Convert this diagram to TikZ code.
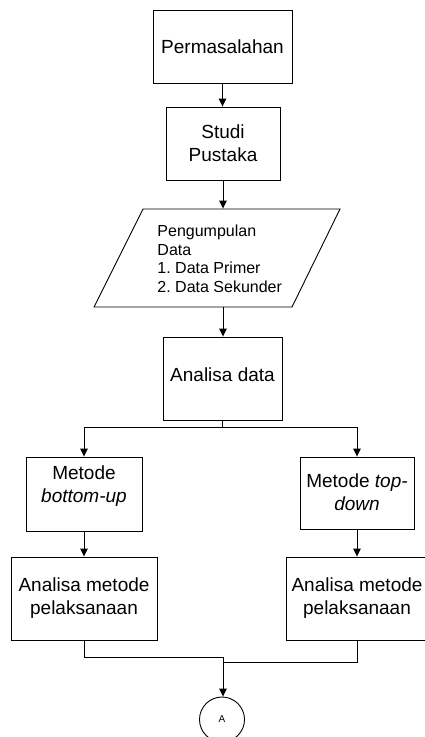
\documentclass[tikz,border=0pt]{standalone}
\usepackage{fontspec}
\setmainfont{Liberation Sans}
\usetikzlibrary{arrows.meta}
\frenchspacing
\begin{document}
\begin{tikzpicture}[x=1pt,y=-1pt,
  line width=0.9pt,
  box/.style={draw, rectangle, inner sep=0pt, align=center, font=\fontsize{19}{23}\selectfont},
  txt/.style={inner sep=0pt, align=center, font=\fontsize{19}{23}\selectfont},
  arr/.style={-{Triangle[length=8pt,width=7.5pt]}}]
\useasboundingbox (0,0) rectangle (425,737);
% nodes
\node[box, minimum width=139pt, minimum height=73pt] (perm) at (222.5,46.5) {Permasalahan};
\node[box, minimum width=114pt, minimum height=73pt] (studi) at (223,143.5) {Studi\\Pustaka};
% parallelogram
\node[minimum width=246pt, minimum height=98pt, inner sep=0pt] (para) at (217,258) {};
\draw (143,209) -- (340,209) -- (292,307) -- (94,307) -- cycle;
\node[anchor=base west, inner sep=0pt, align=left, font=\fontsize{16}{18.5}\selectfont] (paratext) at (157,292)
  {Pengumpulan\\Data\\1. Data Primer\\2. Data Sekunder};
\node[box, minimum width=119pt, minimum height=83pt] (anal) at (222.5,378.5) {};
\node[txt] (analtext) at (222.5,374.5) {Analisa data};
\node[box, minimum width=116pt, minimum height=74pt] (mbu) at (84,494) {};
\node[txt] (mbutext) at (84,486) {Metode\\\textit{bottom-up}};
\node[box, minimum width=114pt, minimum height=72pt] (mtd) at (357,493) {};
\node[txt] (mtdtext) at (357,492) {Metode \textit{top-}\\\textit{down}};
\node[box, minimum width=146pt, minimum height=83pt] (aml) at (84,598.5) {Analisa metode\\pelaksanaan};
\node[box, minimum width=142pt, minimum height=83pt] (amr) at (357,598.5) {Analisa metode\\pelaksanaan};
\node[draw, circle, minimum size=45pt, inner sep=0pt, font=\fontsize{10}{12}\selectfont] (conA) at (222,719.5) {A};
% coordinates
\coordinate (split) at (222.5,427);
\coordinate (joinL) at (223,657);
\coordinate (joinR) at (223,662);
% connectors
\draw[arr] (perm.south) -- (perm.south |- studi.north);
\draw[arr] (studi.south) -- (studi.south |- para.north);
\draw[arr] (para.south -| studi.south) -- (studi.south |- anal.north);
\draw (anal.south) -- (split);
\draw[arr] (split) -| (mbu.north);
\draw[arr] (split) -| (mtd.north);
\draw[arr] (mbu.south) -- (aml.north);
\draw[arr] (mtd.south) -- (amr.north);
\draw (aml.south) |- (joinL);
\draw (amr.south) |- (joinR);
\draw[arr] (joinL) -- (joinL |- conA.north);
\end{tikzpicture}
\end{document}
